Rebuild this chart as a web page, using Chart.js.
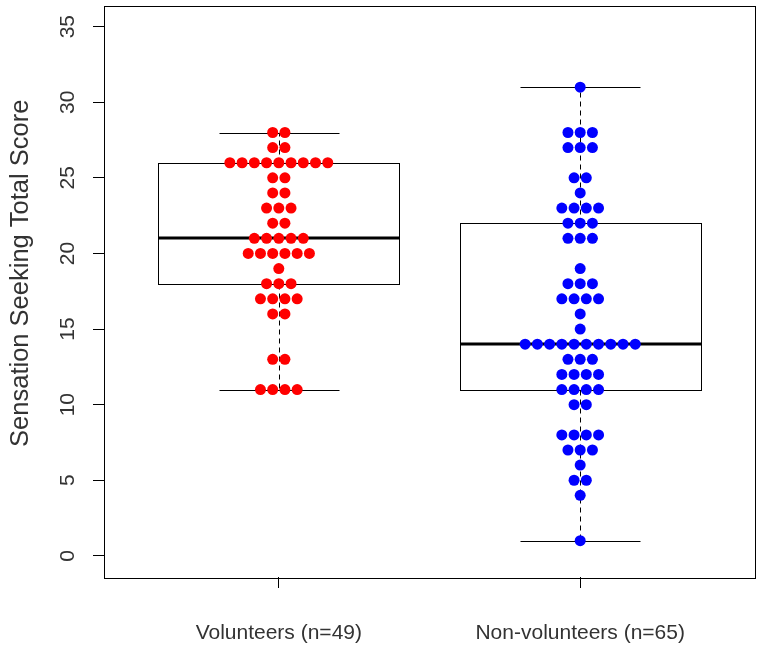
<!DOCTYPE html>
<html lang="en">
<head>
  <meta charset="UTF-8">
  <title>Sensation Seeking Total Score</title>
  <script src="https://cdn.jsdelivr.net/npm/chart.js"></script>
  <style>
    html, body { margin: 0; padding: 0; background: #fff; }
    canvas { display: block; }
  </style>
</head>
<body>
  <canvas id="chart" width="762" height="648"></canvas>

  <script>
    // categories
    const groups = ['Volunteers (n=49)', 'Non-volunteers (n=65)'];
    const yTitle = 'Sensation Seeking Total Score';

    // individual scores (one entry per person)
    const volunteerScores = [
      28, 28, 27, 27,
      26, 26, 26, 26, 26, 26, 26, 26, 26,
      25, 25, 24, 24, 23, 23, 23, 22, 22,
      21, 21, 21, 21, 21,
      20, 20, 20, 20, 20, 20,
      19, 18, 18, 18, 17, 17, 17, 17,
      16, 16, 13, 13, 11, 11, 11, 11
    ];
    const nonVolunteerScores = [
      31, 28, 28, 28, 27, 27, 27, 25, 25, 24,
      23, 23, 23, 23, 22, 22, 22, 21, 21, 21,
      19, 18, 18, 18, 17, 17, 17, 17, 16, 15,
      14, 14, 14, 14, 14, 14, 14, 14, 14, 14,
      13, 13, 13, 12, 12, 12, 12, 11, 11, 11, 11,
      10, 10, 8, 8, 8, 8, 7, 7, 7, 6, 5, 5, 4, 1
    ];

    // boxplot statistics per group
    const whiskerLow = [11, 1];
    const lowerHinge = [18, 11];
    const medians = [21, 14];
    const upperHinge = [26, 22];
    const whiskerHigh = [28, 31];

    const yTickValues = [0, 5, 10, 15, 20, 25, 30, 35];

    const SPACING = 0.0406;   // horizontal gap between dots, in x units
    const TEXT = '#333';
    const FONT = "'Liberation Sans', Arial, sans-serif";

    // simple centred swarm: equal values are spread side by side
    function swarm(scores, center) {
      const counts = {};
      const seen = {};
      scores.forEach(v => { counts[v] = (counts[v] || 0) + 1; });
      return scores.map(v => {
        seen[v] = seen[v] === undefined ? 0 : seen[v] + 1;
        return { x: center + (seen[v] - (counts[v] - 1) / 2) * SPACING, y: v };
      });
    }

    const crisp = p => Math.round(p) + 0.5;

    const boxPlugin = {
      id: 'boxes',
      beforeDatasetsDraw(chart) {
        const { ctx, scales: { x, y } } = chart;
        ctx.save();
        ctx.strokeStyle = '#000';
        groups.forEach((g, i) => {
          const c = i + 1;
          const xc = crisp(x.getPixelForValue(c));
          const bl = crisp(x.getPixelForValue(c - 0.4));
          const br = crisp(x.getPixelForValue(c + 0.4));
          const cl = crisp(x.getPixelForValue(c - 0.2));
          const cr = crisp(x.getPixelForValue(c + 0.2));
          const py = v => crisp(y.getPixelForValue(v));

          const seg = (x1, y1, x2, y2) => {
            ctx.beginPath(); ctx.moveTo(x1, y1); ctx.lineTo(x2, y2); ctx.stroke();
          };

          ctx.lineWidth = 1;
          ctx.setLineDash([5, 4]);
          seg(xc, py(upperHinge[i]), xc, py(whiskerHigh[i]));
          seg(xc, py(lowerHinge[i]), xc, py(whiskerLow[i]));
          ctx.setLineDash([]);
          seg(cl, py(whiskerHigh[i]), cr, py(whiskerHigh[i]));
          seg(cl, py(whiskerLow[i]), cr, py(whiskerLow[i]));

          ctx.strokeRect(bl, py(upperHinge[i]), br - bl, py(lowerHinge[i]) - py(upperHinge[i]));

          ctx.lineWidth = 3;
          const ym = Math.round(y.getPixelForValue(medians[i]));
          seg(bl, ym, br, ym);
        });
        ctx.restore();
      },
      afterDatasetsDraw(chart) {
        const { ctx, chartArea: a } = chart;
        ctx.save();
        // plot frame
        ctx.strokeStyle = '#000';
        ctx.lineWidth = 1;
        ctx.strokeRect(crisp(a.left), crisp(a.top), Math.round(a.right - a.left), Math.round(a.bottom - a.top));
        // y axis title, placed as in the R plot
        ctx.fillStyle = TEXT;
        ctx.font = "25.5px " + FONT;
        ctx.textAlign = 'center';
        ctx.textBaseline = 'middle';
        ctx.translate(21, (a.top + a.bottom) / 2 - 18);
        ctx.rotate(-Math.PI / 2);
        ctx.fillText(yTitle, 0, 0);
        ctx.restore();
      }
    };

    new Chart(document.getElementById('chart'), {
      type: 'scatter',
      data: {
        datasets: [
          {
            label: groups[0],
            data: swarm(volunteerScores, 1),
            backgroundColor: '#ff0000',
            borderWidth: 0,
            pointRadius: 5.5
          },
          {
            label: groups[1],
            data: swarm(nonVolunteerScores, 2),
            backgroundColor: '#0000ff',
            borderWidth: 0,
            pointRadius: 5.5
          }
        ]
      },
      options: {
        responsive: false,
        animation: false,
        layout: { padding: { top: 5, right: 7, left: 0, bottom: 0 } },
        plugins: { legend: { display: false }, tooltip: { enabled: false } },
        scales: {
          x: {
            type: 'linear',
            min: 0.42,
            max: 2.58,
            afterBuildTicks: s => { s.ticks = groups.map((g, i) => ({ value: i + 1 })); },
            afterFit: s => { s.height = 71; s.paddingLeft = 0; s.paddingRight = 0; },
            grid: { drawOnChartArea: false, tickLength: 11, color: '#000' },
            border: { display: false },
            ticks: {
              callback: v => groups[Math.round(v) - 1],
              color: TEXT,
              font: { family: FONT, size: 21 },
              padding: 33,
              autoSkip: false,
              maxRotation: 0
            }
          },
          y: {
            min: -1.4,
            max: 36.4,
            afterBuildTicks: s => { s.ticks = yTickValues.map(v => ({ value: v })); },
            afterFit: s => { s.width = 104; s.paddingTop = 0; s.paddingBottom = 0; },
            grid: { drawOnChartArea: false, tickLength: 11, color: '#000' },
            border: { display: false },
            ticks: {
              color: TEXT,
              font: { family: FONT, size: 21 },
              minRotation: 90,
              maxRotation: 90,
              crossAlign: 'center',
              padding: 13
            }
          }
        }
      },
      plugins: [boxPlugin]
    });
  </script>
</body>
</html>
